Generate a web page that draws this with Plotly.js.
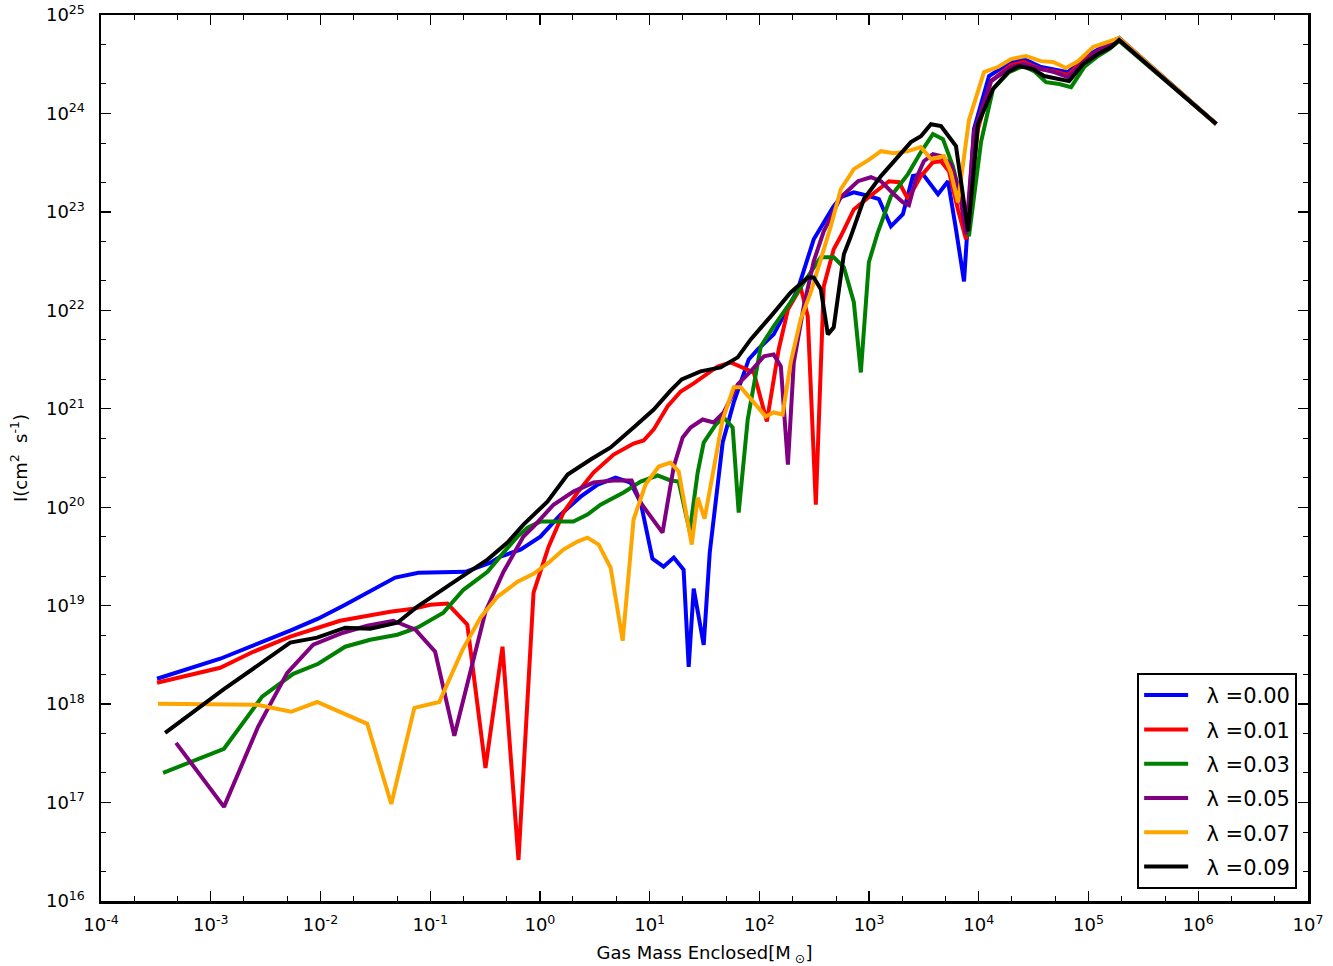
<!DOCTYPE html>
<html>
<head>
<meta charset="utf-8">
<script src="https://cdn.plot.ly/plotly-3.0.1.min.js"></script>
<style>html,body{margin:0;padding:0;background:#fff;}</style>
</head>
<body>
<div id="chart" style="width:1333px;height:966px;"></div>
<script>
// lambda = 0.00
const massL000 = [3.24e-4, 1.22e-3, 5.3e-3, 9.5e-3, 1.68e-2, 2.84e-2, 4.8e-2, 7.8e-2, 0.21, 0.354, 0.437, 0.665, 1.01, 1.54, 2.35, 3.36, 4.9, 6.7, 8.3, 10.6, 13.4, 16.6, 20.4, 22.7, 25.2, 31.1, 35.3, 46.3, 58.4, 80, 96.6, 135, 224, 313, 468, 552, 726, 1016, 1228, 1581, 2032, 2506, 3090, 4246, 5240, 6190, 7330, 9030, 12390, 19700, 25800, 36900, 48500, 65200, 85500, 122000, 161000, 190000, 1.46e6];
const angL000 = [1.81e18, 2.89e18, 5.57e18, 7.38e18, 1.02e19, 1.39e19, 1.93e19, 2.16e19, 2.21e19, 2.73e19, 3.15e19, 3.71e19, 5.03e19, 8.4e19, 1.28e20, 1.70e20, 2.0e20, 1.78e20, 1.11e20, 3.0e19, 2.49e19, 3.08e19, 2.32e19, 2.39e18, 1.49e19, 4.0e18, 3.46e19, 4.55e20, 1.16e21, 3.17e21, 4.0e21, 5.7e21, 1.63e22, 5.27e22, 1.11e23, 1.41e23, 1.58e23, 1.44e23, 1.35e23, 7.14e22, 9.46e22, 2.31e23, 2.42e23, 1.51e23, 2.05e23, 6.67e22, 1.97e22, 6.93e23, 2.4e24, 3.33e24, 3.57e24, 2.96e24, 2.82e24, 2.63e24, 3.57e24, 4.51e24, 5.31e24, 5.84e24, 7.8e23];

// lambda = 0.01
const massL001 = [3.24e-4, 1.22e-3, 2.44e-3, 5.3e-3, 1.51e-2, 2.67e-2, 4.32e-2, 7.0e-2, 0.1, 0.1435, 0.218, 0.319, 0.456, 0.638, 0.875, 1.20, 1.64, 2.20, 3.08, 4.70, 7.14, 8.81, 10.9, 14.6, 19.2, 25.2, 31.1, 41.7, 54.8, 67.6, 88.9, 117, 150, 182, 238, 276, 327, 386, 476, 552, 726, 1016, 1282, 1517, 1871, 2260, 2966, 3820, 4520, 5350, 6450, 7640, 9820, 12900, 19700, 25800, 36900, 48500, 65200, 85500, 122000, 161000, 190000, 1.46e6];
const angL001 = [1.65e18, 2.34e18, 3.40e18, 4.84e18, 7.03e18, 7.91e18, 8.69e18, 9.31e18, 1.02e19, 1.05e19, 6.41e18, 2.25e17, 3.83e18, 2.61e16, 1.36e19, 3.98e19, 8.83e19, 1.41e20, 2.25e20, 3.43e20, 4.44e20, 4.76e20, 6.17e20, 1.06e21, 1.50e21, 1.81e21, 2.13e21, 2.69e21, 2.96e21, 2.69e21, 2.34e21, 7.43e20, 4.0e21, 1.02e22, 1.71e22, 8.69e21, 1.06e20, 1.75e22, 4.17e22, 5.65e22, 1.06e23, 1.44e23, 1.78e23, 2.05e23, 2.0e23, 1.35e23, 2.31e23, 3.20e23, 3.27e23, 2.59e23, 1.06e23, 5.27e22, 6.93e23, 2.13e24, 3.10e24, 3.33e24, 2.82e24, 2.69e24, 2.45e24, 3.33e24, 4.31e24, 5.07e24, 5.70e24, 7.8e23];

// lambda = 0.03
const massL003 = [3.68e-4, 1.32e-3, 2.94e-3, 5.65e-3, 9.55e-3, 1.68e-2, 2.84e-2, 5.02e-2, 7.64e-2, 0.132, 0.201, 0.333, 0.466, 0.625, 0.771, 1.01, 2.02, 2.71, 3.57, 5.79, 8.28, 11.8, 15.5, 18.4, 23.2, 27.4, 31.1, 40.0, 47.3, 57.1, 64.8, 78.3, 103, 135, 193, 276, 363, 476, 589, 726, 841, 995, 1202, 1581, 2260, 2966, 3820, 4710, 5810, 6880, 8130, 10470, 13460, 18840, 25290, 31900, 41000, 53950, 69340, 91200, 122000, 154200, 190000, 1.46e6];
const angL003 = [2.0e17, 3.52e17, 1.19e18, 2.03e18, 2.57e18, 3.83e18, 4.51e18, 5.07e18, 5.97e18, 8.49e18, 1.45e19, 2.21e19, 3.46e19, 5.03e19, 6.21e19, 7.14e19, 7.14e19, 8.41e19, 1.06e20, 1.41e20, 1.82e20, 2.10e20, 1.87e20, 1.82e20, 5.65e19, 2.25e20, 4.54e20, 6.92e20, 8.15e20, 6.46e20, 8.83e19, 7.78e20, 4.30e21, 6.87e21, 1.21e22, 2.22e22, 3.46e22, 3.46e22, 2.74e22, 1.21e22, 2.34e21, 3.08e22, 6.21e22, 1.44e23, 2.42e23, 4.05e23, 6.17e23, 5.48e23, 2.91e23, 1.35e23, 5.65e22, 5.11e23, 1.77e24, 2.63e24, 3.03e24, 2.69e24, 2.08e24, 1.99e24, 1.85e24, 2.96e24, 3.83e24, 4.51e24, 5.44e24, 7.8e23];

// lambda = 0.05
const massL005 = [4.83e-4, 1.32e-3, 2.70e-3, 4.98e-3, 8.59e-3, 1.61e-2, 2.67e-2, 4.62e-2, 7.33e-2, 0.111, 0.166, 0.223, 0.319, 0.466, 0.708, 0.875, 1.33, 2.02, 3.08, 4.70, 6.85, 8.28, 10.6, 13.1, 16.6, 20.0, 23.6, 30.4, 38.3, 47.3, 63.5, 83.4, 110, 135, 157, 182, 206, 254, 313, 386, 552, 791, 1038, 1282, 1683, 2032, 2307, 2667, 3155, 3820, 4520, 5560, 6590, 7640, 9030, 12900, 19700, 25800, 36900, 48500, 65200, 85500, 122000, 161000, 190000, 1.46e6];
const angL005 = [4.04e17, 9.04e16, 5.88e17, 2.08e18, 4.01e18, 5.31e18, 6.25e18, 7.03e18, 5.70e18, 3.40e18, 4.76e17, 1.77e18, 8.69e18, 2.21e19, 5.03e19, 6.35e19, 1.06e20, 1.44e20, 1.78e20, 1.87e20, 1.87e20, 1.11e20, 7.50e19, 5.52e19, 2.59e20, 5.11e20, 6.46e20, 7.78e20, 7.26e20, 9.18e20, 1.77e21, 2.40e21, 3.41e21, 3.57e21, 2.69e21, 2.71e20, 2.96e21, 1.10e22, 3.15e22, 6.35e22, 1.41e23, 2.05e23, 2.25e23, 2.05e23, 1.51e23, 1.25e23, 1.17e23, 2.15e23, 3.27e23, 3.86e23, 3.68e23, 3.05e23, 1.70e23, 5.93e22, 6.46e23, 2.13e24, 2.96e24, 3.18e24, 2.82e24, 2.63e24, 2.34e24, 3.18e24, 4.31e24, 5.07e24, 5.57e24, 7.8e23];

// lambda = 0.07
const massL007 = [3.31e-4, 2.65e-3, 5.41e-3, 9.33e-3, 2.67e-2, 4.42e-2, 7.18e-2, 0.121, 0.197, 0.287, 0.410, 0.625, 0.875, 1.20, 1.64, 2.20, 2.71, 3.43, 4.41, 5.68, 7.14, 9.18, 12.1, 15.5, 18.4, 24.2, 27.4, 31.7, 38.3, 46.3, 58.4, 67.6, 88.9, 114, 135, 163, 193, 238, 294, 363, 448, 552, 726, 1016, 1282, 1683, 2260, 2966, 3660, 4810, 5560, 6450, 8130, 11140, 14960, 19700, 26900, 36900, 47500, 62400, 80200, 110000, 144500, 190000, 1.46e6];
const angL007 = [1.01e18, 9.84e17, 8.36e17, 1.05e18, 6.31e17, 9.68e16, 9.16e17, 1.05e18, 3.56e18, 7.55e18, 1.23e19, 1.75e19, 2.11e19, 2.73e19, 3.71e19, 4.48e19, 4.91e19, 4.17e19, 2.43e19, 4.40e18, 7.50e19, 1.70e20, 2.59e20, 2.84e20, 2.31e20, 4.17e19, 1.25e20, 7.67e19, 2.42e20, 7.78e20, 1.65e21, 1.65e21, 1.16e21, 8.36e20, 9.18e20, 8.75e20, 2.96e21, 8.09e21, 1.52e22, 3.30e22, 7.14e22, 1.70e23, 2.72e23, 3.44e23, 4.14e23, 3.95e23, 4.14e23, 4.55e23, 3.44e23, 3.68e23, 2.53e23, 1.25e23, 8.55e23, 2.63e24, 2.96e24, 3.57e24, 3.83e24, 3.40e24, 3.33e24, 2.89e24, 3.40e24, 4.72e24, 5.31e24, 5.84e24, 7.8e23];

// lambda = 0.09
const massL009 = [3.84e-4, 1.30e-3, 5.3e-3, 9.33e-3, 1.68e-2, 2.84e-2, 5.02e-2, 7.64e-2, 0.177, 0.333, 0.506, 0.708, 1.17, 1.79, 2.90, 4.41, 7.14, 10.9, 15.5, 19.6, 29.1, 44.4, 63.5, 83.4, 127, 193, 276, 313, 363, 421, 476, 589, 682, 897, 1282, 1832, 2405, 2966, 3660, 4520, 6190, 7980, 9820, 13460, 18450, 23280, 31190, 39360, 52840, 66530, 89330, 122000, 161000, 190000, 1.46e6];
const angL009 = [5.11e17, 1.40e18, 4.21e18, 4.73e18, 5.97e18, 5.83e18, 6.71e18, 9.77e18, 1.84e19, 2.94e19, 4.37e19, 6.65e19, 1.14e20, 2.15e20, 3.05e20, 4.05e20, 6.46e20, 9.84e20, 1.53e21, 1.99e21, 2.40e21, 2.63e21, 3.33e21, 5.07e21, 8.69e21, 1.52e22, 2.16e22, 2.16e22, 1.64e22, 5.7e21, 6.71e21, 3.71e22, 5.65e22, 1.35e23, 2.31e23, 3.68e23, 5.11e23, 5.87e23, 7.78e23, 7.43e23, 4.66e23, 6.35e22, 7.78e23, 1.77e24, 2.63e24, 3.03e24, 2.82e24, 2.40e24, 2.23e24, 2.13e24, 3.18e24, 4.01e24, 4.72e24, 5.57e24, 7.8e23];

const seriesNames = ["λ =0.00", "λ =0.01", "λ =0.03", "λ =0.05", "λ =0.07", "λ =0.09"];
const seriesColors = ["#0000ff", "#ff0000", "#008000", "#800080", "#ffa500", "#000000"];
const seriesX = [massL000, massL001, massL003, massL005, massL007, massL009];
const seriesY = [angL000, angL001, angL003, angL005, angL007, angL009];

const xTickVals = [1e-4, 1e-3, 1e-2, 1e-1, 1e0, 1e1, 1e2, 1e3, 1e4, 1e5, 1e6, 1e7];
const xTickText = ["10<sup>-4</sup>", "10<sup>-3</sup>", "10<sup>-2</sup>", "10<sup>-1</sup>", "10<sup>0</sup>", "10<sup>1</sup>", "10<sup>2</sup>", "10<sup>3</sup>", "10<sup>4</sup>", "10<sup>5</sup>", "10<sup>6</sup>", "10<sup>7</sup>"];
const yTickVals = [1e16, 1e17, 1e18, 1e19, 1e20, 1e21, 1e22, 1e23, 1e24, 1e25];
const yTickText = ["10<sup>16</sup>", "10<sup>17</sup>", "10<sup>18</sup>", "10<sup>19</sup>", "10<sup>20</sup>", "10<sup>21</sup>", "10<sup>22</sup>", "10<sup>23</sup>", "10<sup>24</sup>", "10<sup>25</sup>"];

const traces = seriesNames.map((name, i) => ({
  type: "scatter",
  mode: "lines",
  name: "&nbsp;&nbsp;" + name,
  legendgroup: "g" + i,
  x: seriesX[i],
  y: seriesY[i],
  line: {color: seriesColors[i], width: 4}
}));

const axisCommon = {
  type: "log",
  showgrid: false,
  zeroline: false,
  showline: true,
  linecolor: "#000",
  linewidth: 2.5,
  mirror: "ticks",
  ticks: "inside",
  ticklen: 10,
  tickwidth: 1.3,
  tickcolor: "#000",
  tickfont: {family: "DejaVu Sans", size: 18, color: "#000"},
  minor: {ticks: "inside", ticklen: 5, tickwidth: 1, tickcolor: "#000", dtick: "D2", showgrid: false}
};

const layout = {
  width: 1333,
  height: 966,
  margin: {l: 101, r: 25, t: 15, b: 65},
  paper_bgcolor: "#fff",
  plot_bgcolor: "#fff",
  font: {family: "DejaVu Sans", color: "#000"},
  showlegend: true,
  xaxis: Object.assign({}, axisCommon, {
    range: [-4, 7],
    tickmode: "array",
    tickvals: xTickVals,
    ticktext: xTickText,
    ticklabelstandoff: 6,
    title: {text: "Gas Mass Enclosed[M<sub>&nbsp;⊙</sub>]", font: {family: "DejaVu Sans", size: 18}, standoff: 13}
  }),
  yaxis: Object.assign({}, axisCommon, {
    range: [16, 25],
    tickmode: "array",
    tickvals: yTickVals,
    ticktext: yTickText,
    ticklabelstandoff: 10,
    title: {text: "I(cm<sup>2</sup>&nbsp; s<sup>-1</sup>)", font: {family: "DejaVu Sans", size: 18}, standoff: 14}
  }),
  legend: {
    x: 0.991, y: 0.0136, xanchor: "right", yanchor: "bottom",
    bgcolor: "#fff", bordercolor: "#000", borderwidth: 2,
    font: {family: "DejaVu Sans", size: 21, color: "#000"},
    tracegroupgap: 4,
    itemwidth: 44
  }
};

Plotly.newPlot("chart", traces, layout, {displayModeBar: false, staticPlot: true});
</script>
</body>
</html>
